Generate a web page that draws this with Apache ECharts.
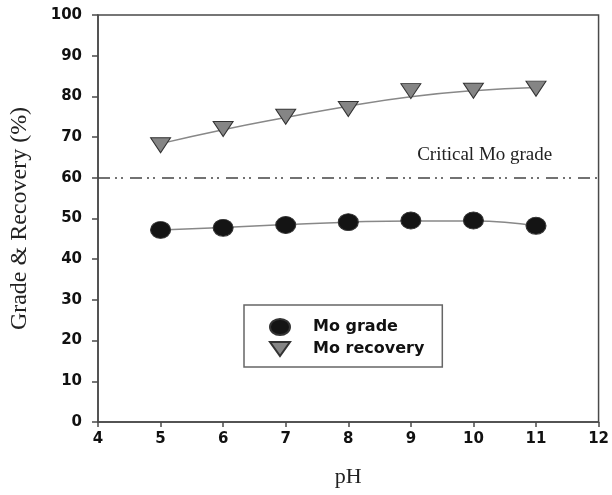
<!DOCTYPE html>
<html>
<head>
<meta charset="utf-8">
<script src="https://cdn.jsdelivr.net/npm/echarts@6/dist/echarts.min.js"></script>
<style>html,body{margin:0;padding:0;background:#fff}#c{width:612px;height:495px}</style>
</head>
<body>
<div id="c"></div>
<script>
const pH = [5, 6, 7, 8, 9, 10, 11];
const moGrade = [47.2, 47.7, 48.4, 49.1, 49.5, 49.5, 48.2];
const moRecovery = [68.0, 72.0, 75.0, 76.9, 81.3, 81.4, 81.9];
const gradeFit = [47.2, 47.8, 48.5, 49.1, 49.4, 49.4, 48.2];
const recoveryFit = [68.4, 71.8, 74.8, 77.6, 79.9, 81.4, 82.2];
const criticalGrade = 60;
const criticalLabel = 'Critical Mo grade';
const criticalLabelPos = [10.18, 65.6];
const xTicks = [4, 5, 6, 7, 8, 9, 10, 11, 12];
const yTicks = [0, 10, 20, 30, 40, 50, 60, 70, 80, 90, 100];

const triDown = 'path://M0,0 L20,0 L10,14 Z';
const ellipse = 'path://M0,8 A10,8 0 1 1 20,8 A10,8 0 1 1 0,8 Z';
const pairs = (xs, ys) => xs.map((x, i) => [x, ys[i]]);

const chart = echarts.init(document.getElementById('c'));
const axisColor = '#4a4a4a';
const tickFont = {fontFamily: 'DejaVu Sans', fontWeight: 'bold', fontSize: 15, color: '#111'};
chart.setOption({
  animation: false,
  grid: {left: 97, right: 13, top: 15, bottom: 73, show: true, borderColor: axisColor, borderWidth: 1.5, backgroundColor: 'transparent'},
  xAxis: {
    type: 'value', min: xTicks[0], max: xTicks[xTicks.length - 1], interval: 1,
    name: 'pH', nameLocation: 'middle', nameGap: 44,
    nameTextStyle: {fontFamily: 'Liberation Serif', fontSize: 22, color: '#222'},
    axisLine: {show: true, lineStyle: {color: axisColor, width: 1.5}},
    axisTick: {show: true, inside: false, length: 5, lineStyle: {color: axisColor, width: 1.5}},
    axisLabel: Object.assign({margin: 10}, tickFont),
    splitLine: {show: false}
  },
  yAxis: {
    type: 'value', min: yTicks[0], max: yTicks[yTicks.length - 1], interval: 10,
    name: 'Grade & Recovery (%)', nameLocation: 'middle', nameGap: 66, nameRotate: 90,
    nameTextStyle: {fontFamily: 'Liberation Serif', fontSize: 24, color: '#222'},
    axisLine: {show: true, lineStyle: {color: axisColor, width: 1.5}},
    axisTick: {show: true, inside: false, length: 6, lineStyle: {color: axisColor, width: 1.5}},
    axisLabel: Object.assign({margin: 16}, tickFont),
    splitLine: {show: false}
  },
  legend: {
    data: [
      {name: 'Mo grade', icon: ellipse},
      {name: 'Mo recovery', icon: triDown}
    ],
    orient: 'vertical', left: 244, top: 305,
    itemWidth: 20, itemHeight: 16, itemGap: 5,
    padding: [13, 18, 10, 25],
    borderColor: '#666', borderWidth: 1.5,
    textStyle: {fontFamily: 'DejaVu Sans', fontWeight: 'bold', fontSize: 16, color: '#111', padding: [0, 0, 0, 18]}
  },
  series: [
    {
      name: 'gradeFit', type: 'line', smooth: true, showSymbol: false, silent: true,
      data: pairs(pH, gradeFit), lineStyle: {color: '#888', width: 1.5}, z: 1,
      markLine: {
        silent: true, symbol: 'none',
        lineStyle: {color: '#444', width: 1.5, type: [12, 5, 2, 4, 2, 7]},
        label: {show: false},
        data: [{yAxis: criticalGrade}]
      },
      markPoint: {
        symbol: 'circle', symbolSize: 0,
        label: {show: true, formatter: criticalLabel, fontFamily: 'Liberation Serif', fontSize: 19, color: '#222', position: 'inside'},
        data: [{coord: criticalLabelPos}]
      }
    },
    {
      name: 'recoveryFit', type: 'line', smooth: true, showSymbol: false, silent: true,
      data: pairs(pH, recoveryFit), lineStyle: {color: '#888', width: 1.5}, z: 1
    },
    {
      name: 'Mo grade', type: 'scatter', data: pairs(pH, moGrade),
      symbol: 'circle', symbolSize: [20, 17],
      itemStyle: {color: '#141414', borderColor: '#333', borderWidth: 1, opacity: 1}, z: 3
    },
    {
      name: 'Mo recovery', type: 'scatter', data: pairs(pH, moRecovery),
      symbol: triDown, symbolSize: [20, 15],
      itemStyle: {color: '#858585', borderColor: '#333', borderWidth: 1, opacity: 1}, z: 3
    }
  ]
});
</script>
</body>
</html>
